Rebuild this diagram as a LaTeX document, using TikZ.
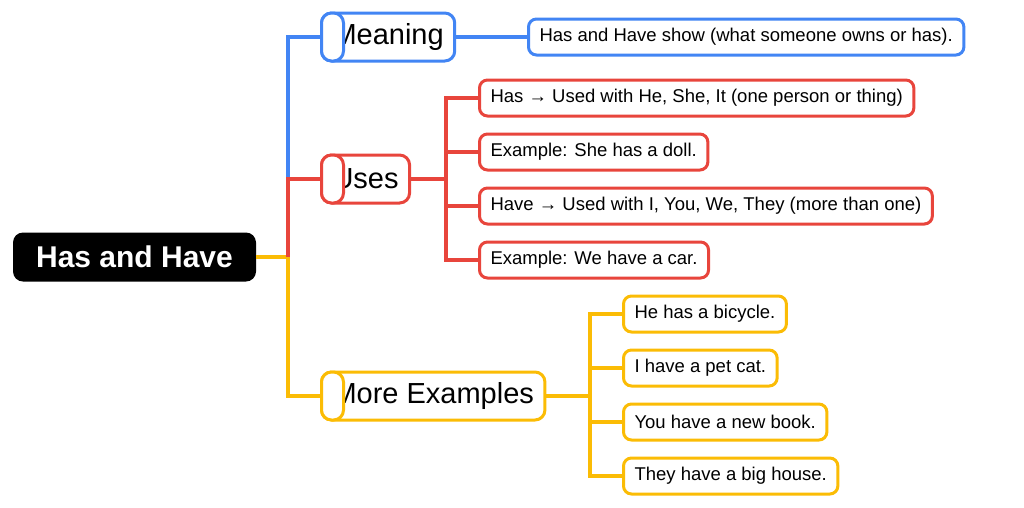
\documentclass[tikz,border=0pt]{standalone}
\usepackage{fontspec}
\setmainfont{Liberation Sans}
\definecolor{cb}{HTML}{4285F4}
\definecolor{cr}{HTML}{E8453C}
\definecolor{cy}{HTML}{FBBC05}
\begin{document}
\begin{tikzpicture}[x=1pt,y=-1pt,
  mid/.style={draw=#1,line width=3pt,rounded corners=10pt,fill=white,minimum height=48pt,inner xsep=11pt,anchor=west,font=\fontsize{29}{30}\selectfont},
  leaf/.style={draw=#1,line width=3pt,rounded corners=8pt,fill=white,minimum height=36pt,inner xsep=11pt,anchor=west,font=\fontsize{18.5}{20}\selectfont},
  ln/.style={draw=#1,line width=4pt}]
\useasboundingbox (0,0) rectangle (1024,507);
\coordinate (t) at (288,257);
\coordinate (tu) at (446,179);
\coordinate (tm) at (590,396);
\node[fill=black,text=white,rounded corners=10pt,minimum height=49pt,minimum width=243pt,font=\bfseries\fontsize{30}{32}\selectfont] (root) at (134.5,257) {Has and Have};
\node[mid=cb] (meaning) at (320,37) {Meaning};
\node[mid=cr] (uses) at (320,179) {Uses};
\node[mid=cy] (more) at (320,396) {More Examples};
\node[leaf=cb] (m1) at (527,37) {Has and Have show (what someone owns or has).};
\node[leaf=cr] (u1) at (478,98) {Has → Used with He, She, It (one person or thing)};
\node[leaf=cr] (u2) at (478,152) {Example: She has a doll.};
\node[leaf=cr] (u3) at (478,206) {Have → Used with I, You, We, They (more than one)};
\node[leaf=cr] (u4) at (478,260) {Example: We have a car.};
\node[leaf=cy] (e1) at (622,314) {He has a bicycle.};
\node[leaf=cy] (e2) at (622,368) {I have a pet cat.};
\node[leaf=cy] (e3) at (622,422) {You have a new book.};
\node[leaf=cy] (e4) at (622,476) {They have a big house.};
\begin{scope}[on background layer/.style={}]
\end{scope}
\begin{pgfinterruptboundingbox}\end{pgfinterruptboundingbox}
\draw[ln=cy] (root.east) -- (t) |- (more.west);
\draw[ln=cb] (t |- uses.west) |- (meaning.west);
\draw[ln=cr] (t) |- (uses.west);
\draw[ln=cb] (meaning.east) -- (m1.west);
\draw[ln=cr] (uses.east) -- (tu);
\foreach \n in {u1,u2,u3,u4} \draw[ln=cr] (tu) |- (\n.west);
\draw[ln=cy] (more.east) -- (tm);
\foreach \n in {e1,e2,e3,e4} \draw[ln=cy] (tm) |- (\n.west);
\foreach \n/\c in {meaning/cb,uses/cr,more/cy} \node[mid=\c] at (\n.west) {\phantom{}};
\end{tikzpicture}
\end{document}
